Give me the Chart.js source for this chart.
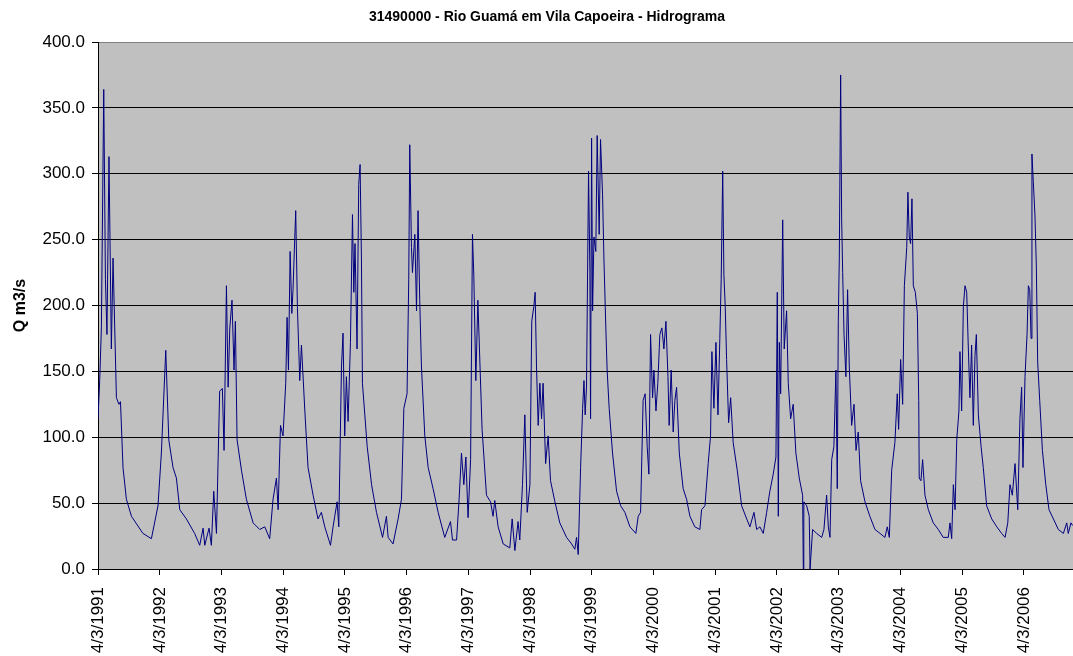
<!DOCTYPE html>
<html>
<head>
<meta charset="utf-8">
<script src="https://cdn.jsdelivr.net/npm/chart.js@4/dist/chart.umd.min.js"></script>
<style>
  body { margin: 0; background: #fff; }
  #grafico { display: block; }
</style>
</head>
<body>
<canvas id="grafico" width="1073" height="656"></canvas>
<script>
// 31490000 - Rio Guamá em Vila Capoeira - vazões lidas do hidrograma
// dias contados a partir de 4/3/1991
var titulo = '31490000 - Rio Guamá em Vila Capoeira - Hidrograma';
var rotulos = ['4/3/1991', '4/3/1992', '4/3/1993', '4/3/1994', '4/3/1995', '4/3/1996', '4/3/1997', '4/3/1998',
    '4/3/1999', '4/3/2000', '4/3/2001', '4/3/2002', '4/3/2003', '4/3/2004', '4/3/2005', '4/3/2006'];
var valoresY = [0, 50, 100, 150, 200, 250, 300, 350, 400];

var dias = [
    0, 10, 20, 34, 44, 53, 65, 79, 89, 109, 124, 133, 148, 168, 198, 266, 316, 355, 375, 401,
    419, 444, 464, 484, 523, 572, 602, 622, 632, 657, 671, 685, 701, 720, 736, 746, 760, 770, 780, 793,
    805, 813, 823, 849, 878, 918, 957, 987, 1016, 1036, 1056, 1066, 1080, 1095, 1111, 1119, 1127, 1137, 1147, 1154,
    1170, 1180, 1194, 1204, 1224, 1243, 1273, 1302, 1322, 1342, 1376, 1391, 1401, 1415, 1425, 1441, 1450, 1460, 1470, 1480,
    1494, 1506, 1514, 1521, 1533, 1543, 1551, 1559, 1565, 1579, 1593, 1619, 1648, 1684, 1707, 1717, 1746, 1776, 1796, 1810,
    1829, 1839, 1845, 1855, 1861, 1875, 1885, 1894, 1904, 1914, 1934, 1954, 1983, 2013, 2052, 2086, 2098, 2122, 2137, 2151,
    2165, 2177, 2190, 2205, 2216, 2224, 2236, 2248, 2260, 2273, 2299, 2323, 2338, 2348, 2368, 2398, 2437, 2451, 2467, 2486,
    2496, 2512, 2526, 2540, 2556, 2567, 2579, 2587, 2595, 2605, 2615, 2625, 2634, 2649, 2664, 2678, 2704, 2733, 2773, 2803,
    2822, 2832, 2842, 2856, 2868, 2876, 2883, 2891, 2903, 2911, 2915, 2921, 2927, 2935, 2946, 2954, 2966, 2974, 2986, 2994,
    3006, 3013, 3025, 3045, 3069, 3093, 3118, 3148, 3183, 3197, 3211, 3226, 3238, 3250, 3260, 3270, 3282, 3290, 3302, 3313,
    3325, 3337, 3349, 3361, 3373, 3380, 3392, 3404, 3414, 3424, 3440, 3463, 3483, 3503, 3532, 3562, 3572, 3592, 3611, 3625,
    3633, 3645, 3657, 3669, 3680, 3688, 3697, 3704, 3712, 3720, 3732, 3744, 3759, 3783, 3809, 3839, 3858, 3882, 3898, 3917,
    3937, 3957, 3976, 3996, 4012, 4020, 4026, 4032, 4040, 4052, 4061, 4075, 4085, 4099, 4114, 4130, 4150, 4170, 4174, 4177,
    4194, 4209, 4214, 4217, 4229, 4253, 4283, 4296, 4312, 4322, 4332, 4342, 4355, 4367, 4375, 4381, 4387, 4395, 4401, 4407,
    4415, 4426, 4436, 4446, 4460, 4474, 4486, 4499, 4513, 4539, 4568, 4598, 4628, 4657, 4671, 4683, 4697, 4716, 4730, 4738,
    4750, 4762, 4772, 4786, 4793, 4801, 4809, 4817, 4825, 4837, 4849, 4857, 4860, 4870, 4880, 4894, 4914, 4943, 4973, 5002,
    5032, 5042, 5052, 5062, 5072, 5082, 5095, 5101, 5111, 5121, 5131, 5141, 5150, 5160, 5170, 5180, 5190, 5198, 5210, 5226,
    5239, 5259, 5289, 5319, 5348, 5368, 5384, 5397, 5411, 5427, 5443, 5456, 5466, 5474, 5486, 5498, 5506, 5514, 5522, 5527,
    5535, 5545, 5553, 5561, 5573, 5589, 5609, 5628, 5654, 5683, 5713, 5733, 5742, 5758, 5768
];

var vazao = [
    114, 143, 183, 364, 220, 178, 313, 167, 236, 130, 125, 127, 77, 53, 40, 27, 23, 48, 88, 166,
    98, 77, 69, 45, 38, 27, 18, 31, 18, 31, 18, 59, 27, 135, 137, 90, 215, 138, 183, 204,
    151, 188, 98, 75, 53, 35, 30, 32, 23, 53, 69, 45, 109, 101, 141, 191, 151, 241, 194, 212,
    272, 199, 143, 170, 120, 77, 56, 38, 43, 32, 18, 32, 40, 51, 32, 154, 179, 101, 146, 112,
    172, 269, 210, 247, 167, 292, 307, 236, 141, 117, 93, 64, 43, 24, 40, 24, 19, 38, 53, 122,
    133, 220, 322, 244, 225, 254, 196, 272, 204, 154, 101, 77, 61, 43, 24, 36, 22, 22, 53, 88,
    64, 85, 39, 83, 254, 223, 143, 204, 157, 106, 56, 51, 40, 52, 32, 19, 16, 38, 14, 36,
    22, 64, 117, 43, 64, 188, 199, 210, 154, 109, 141, 114, 141, 80, 101, 67, 51, 35, 24, 19,
    15, 24, 11, 77, 122, 143, 117, 138, 302, 225, 114, 327, 196, 252, 241, 329, 254, 326, 284, 236,
    180, 151, 122, 88, 59, 48, 43, 32, 27, 40, 43, 128, 133, 93, 72, 178, 130, 151, 120, 141,
    178, 183, 167, 188, 146, 109, 151, 104, 128, 138, 88, 61, 53, 40, 32, 30, 45, 48, 80, 101,
    165, 122, 172, 117, 175, 220, 302, 223, 199, 159, 111, 130, 96, 75, 48, 38, 32, 43, 30, 32,
    27, 43, 59, 72, 85, 210, 40, 172, 133, 265, 167, 196, 141, 114, 125, 88, 69, 56, 0, 51,
    48, 40, 0, 0, 30, 27, 24, 30, 56, 32, 24, 83, 93, 151, 61, 188, 236, 375, 265, 225,
    178, 146, 212, 154, 109, 125, 90, 104, 67, 51, 40, 30, 27, 24, 32, 24, 75, 96, 133, 106,
    159, 125, 215, 244, 286, 252, 247, 281, 215, 210, 194, 128, 69, 67, 83, 56, 45, 35, 30, 24,
    24, 35, 23, 64, 45, 98, 120, 165, 120, 199, 215, 210, 170, 130, 170, 109, 162, 178, 117, 93,
    77, 48, 38, 32, 27, 24, 35, 64, 56, 80, 45, 114, 138, 77, 146, 178, 215, 212, 175, 315,
    294, 268, 230, 157, 128, 90, 64, 45, 38, 30, 27, 35, 27, 35, 33
];

function diaDoRotulo(r) {
    var p = r.split('/');
    var inicio = Date.UTC(1991, 2, 4);
    return Math.round((Date.UTC(+p[2], +p[1] - 1, +p[0]) - inicio) / 86400000);
}
var diasRotulos = rotulos.map(diaDoRotulo);

var pontos = dias.map(function (d, i) { return { x: d, y: vazao[i] }; });

var fundoCinza = {
    id: 'fundoCinza',
    beforeDraw: function (chart) {
        var a = chart.chartArea;
        var ctx = chart.ctx;
        ctx.save();
        ctx.fillStyle = '#c0c0c0';
        ctx.fillRect(a.left, a.top, a.right - a.left, a.bottom - a.top);
        ctx.restore();
    },
    afterDraw: function (chart) {
        var ctx = chart.ctx;
        ctx.save();
        ctx.fillStyle = '#000';
        ctx.font = 'bold 14px "Liberation Sans", Arial, sans-serif';
        ctx.textAlign = 'center';
        ctx.textBaseline = 'middle';
        ctx.fillText(titulo, 547, 17);
        ctx.restore();
    }
};

var fonteEixo = { family: '"Liberation Sans", Arial, sans-serif', size: 17 };

var config = {
    type: 'line',
    data: {
        datasets: [{
            data: pontos,
            borderColor: '#000080',
            borderWidth: 1,
            pointRadius: 0,
            tension: 0,
            fill: false
        }]
    },
    options: {
        responsive: false,
        animation: false,
        layout: { padding: { top: 42, left: 0, right: 0, bottom: 0 }, autoPadding: false },
        plugins: {
            legend: { display: false },
            tooltip: { enabled: false },
            title: { display: false }
        },
        scales: {
            x: {
                type: 'linear',
                min: 0,
                max: 5770,
                offset: false,
                afterBuildTicks: function (scale) {
                    scale.ticks = diasRotulos.map(function (d) { return { value: d }; });
                },
                afterFit: function (scale) { scale.height = 87; },
                ticks: {
                    autoSkip: false,
                    maxRotation: 90,
                    minRotation: 90,
                    padding: 12,
                    color: '#000',
                    font: fonteEixo,
                    callback: function (v, i) { return rotulos[i]; }
                },
                grid: { drawOnChartArea: false, drawTicks: true, tickLength: 6, tickColor: '#000' },
                border: { display: true, color: '#000', width: 1 }
            },
            y: {
                min: valoresY[0],
                max: valoresY[valoresY.length - 1],
                afterBuildTicks: function (scale) {
                    scale.ticks = valoresY.map(function (v) { return { value: v }; });
                },
                afterFit: function (scale) { scale.width = 98; },
                ticks: {
                    padding: 7,
                    color: '#000',
                    font: fonteEixo,
                    callback: function (v) { return v.toFixed(1); }
                },
                grid: {
                    color: function (c) { return c.tick && c.tick.value === 400 ? '#808080' : '#000'; },
                    tickColor: '#000',
                    tickLength: 6,
                    lineWidth: 1
                },
                border: { display: true, color: '#000', width: 1 },
                title: {
                    display: true,
                    text: 'Q m3/s',
                    color: '#000',
                    padding: { top: 11, bottom: 0 },
                    font: { family: '"Liberation Sans", Arial, sans-serif', size: 16, weight: 'bold' }
                }
            }
        }
    },
    plugins: [fundoCinza]
};

var ctx = document.getElementById('grafico').getContext('2d');
var grafico = new Chart(ctx, config);
</script>
</body>
</html>
